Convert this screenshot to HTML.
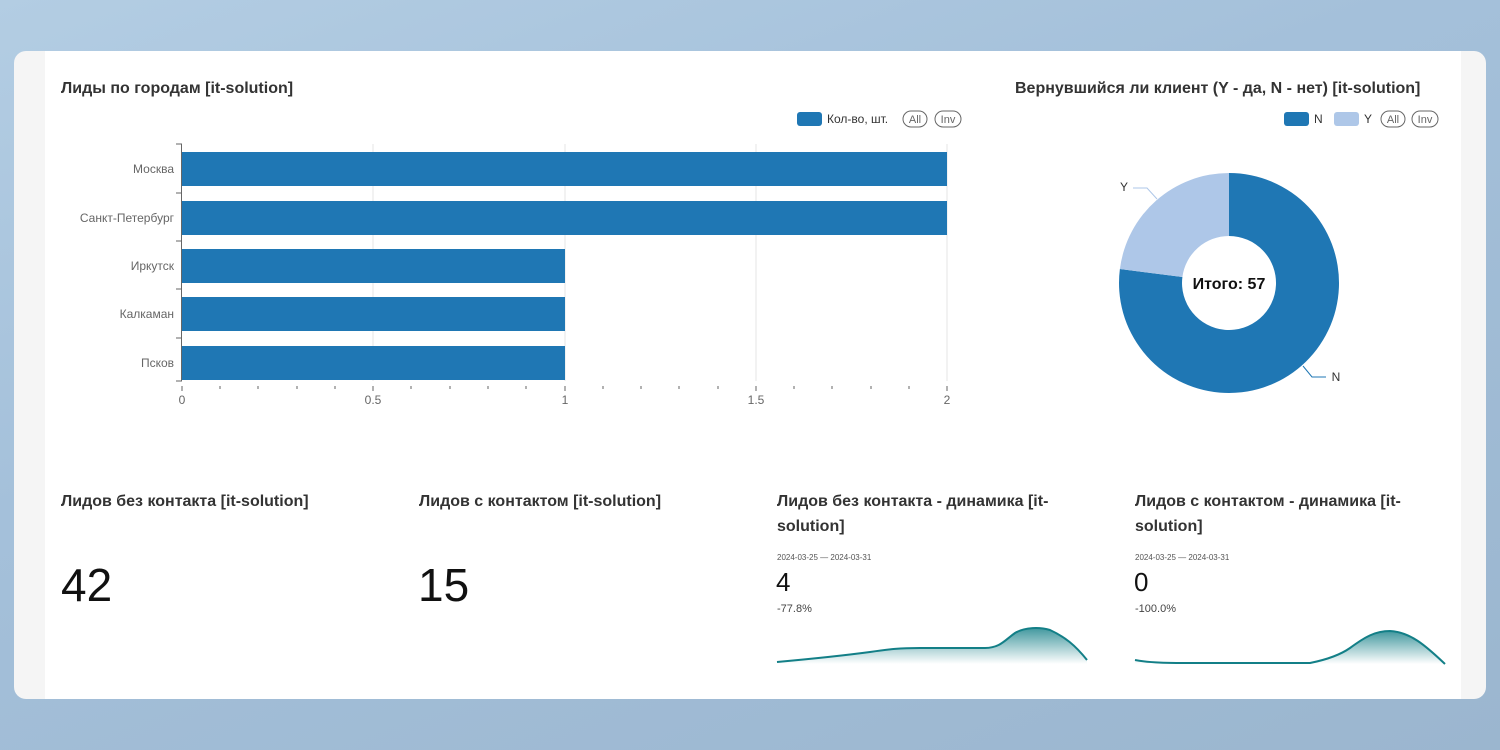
<!DOCTYPE html>
<html><head><meta charset="utf-8"><style>
body{margin:0;width:1500px;height:750px;overflow:hidden;font-family:"Liberation Sans",sans-serif;background:linear-gradient(160deg,#b3cde3 0%,#a4c0da 40%,#9bb6cf 100%);position:relative}
.card{position:absolute;left:14px;top:51px;width:1472px;height:648px;background:#f5f5f5;border-radius:12px;overflow:hidden}
.inner{position:absolute;left:31px;top:0;width:1416px;height:648px;background:#fff}
.t{position:absolute;font-size:16px;font-weight:bold;color:#333;line-height:25px}
.big{position:absolute;font-size:46px;color:#111}
</style></head><body>
<div class="card"><div class="inner"></div></div>
<svg width="1500" height="750" style="position:absolute;left:0;top:0" font-family="Liberation Sans, sans-serif">
<g stroke="#e6e6e6"><line x1="373" y1="144" x2="373" y2="381"/><line x1="565" y1="144" x2="565" y2="381"/><line x1="756" y1="144" x2="756" y2="381"/><line x1="947" y1="144" x2="947" y2="381"/></g>
<g fill="#1f77b4"><rect x="182" y="152" width="765" height="34"/><rect x="182" y="201" width="765" height="34"/><rect x="182" y="249" width="383" height="34"/><rect x="182" y="297" width="383" height="34"/><rect x="182" y="346" width="383" height="34"/></g>
<g stroke="#666"><line x1="181.5" y1="144" x2="181.5" y2="381"/><line x1="176" y1="144" x2="182" y2="144"/><line x1="176" y1="193" x2="182" y2="193"/><line x1="176" y1="241" x2="182" y2="241"/><line x1="176" y1="289" x2="182" y2="289"/><line x1="176" y1="338" x2="182" y2="338"/><line x1="176" y1="381" x2="182" y2="381"/></g>
<g stroke="#666">
<line x1="182" y1="386" x2="182" y2="391"/><line x1="220" y1="386" x2="220" y2="389"/><line x1="258" y1="386" x2="258" y2="389"/><line x1="297" y1="386" x2="297" y2="389"/><line x1="335" y1="386" x2="335" y2="389"/><line x1="373" y1="386" x2="373" y2="391"/><line x1="411" y1="386" x2="411" y2="389"/><line x1="450" y1="386" x2="450" y2="389"/><line x1="488" y1="386" x2="488" y2="389"/><line x1="526" y1="386" x2="526" y2="389"/><line x1="565" y1="386" x2="565" y2="391"/><line x1="603" y1="386" x2="603" y2="389"/><line x1="641" y1="386" x2="641" y2="389"/><line x1="679" y1="386" x2="679" y2="389"/><line x1="718" y1="386" x2="718" y2="389"/><line x1="756" y1="386" x2="756" y2="391"/><line x1="794" y1="386" x2="794" y2="389"/><line x1="832" y1="386" x2="832" y2="389"/><line x1="871" y1="386" x2="871" y2="389"/><line x1="909" y1="386" x2="909" y2="389"/><line x1="947" y1="386" x2="947" y2="391"/></g>
<g font-size="12" fill="#666" text-anchor="middle"><text x="182" y="404">0</text><text x="373" y="404">0.5</text><text x="565" y="404">1</text><text x="756" y="404">1.5</text><text x="947" y="404">2</text></g>
<g font-size="12" fill="#666" text-anchor="end"><text x="174" y="173">Москва</text><text x="174" y="222">Санкт-Петербург</text><text x="174" y="270">Иркутск</text><text x="174" y="318">Калкаман</text><text x="174" y="367">Псков</text></g>
<rect x="797" y="112" width="25" height="14" rx="3" fill="#1f77b4"/><text x="827" y="123" font-size="12" fill="#333">Кол-во, шт.</text>
<rect x="903" y="111" width="24" height="16" rx="8" fill="none" stroke="#666"/><text x="915" y="123" font-size="11" fill="#666" text-anchor="middle">All</text>
<rect x="935" y="111" width="26" height="16" rx="8" fill="none" stroke="#666"/><text x="948" y="123" font-size="11" fill="#666" text-anchor="middle">Inv</text>
<rect x="1284" y="112" width="25" height="14" rx="3" fill="#1f77b4"/><text x="1314" y="123" font-size="12" fill="#333">N</text>
<rect x="1334" y="112" width="25" height="14" rx="3" fill="#aec7e8"/><text x="1364" y="123" font-size="12" fill="#333">Y</text>
<rect x="1381" y="111" width="24" height="16" rx="8" fill="none" stroke="#666"/><text x="1393" y="123" font-size="11" fill="#666" text-anchor="middle">All</text>
<rect x="1412" y="111" width="26" height="16" rx="8" fill="none" stroke="#666"/><text x="1425" y="123" font-size="11" fill="#666" text-anchor="middle">Inv</text>
<path d="M1229 173 A110 110 0 1 1 1119.9 269 L1182.4 277 A47 47 0 1 0 1229 236 Z" fill="#1f77b4"/>
<path d="M1229 173 L1229 236 A47 47 0 0 0 1182.4 277 L1119.9 269 A110 110 0 0 1 1229 173 Z" fill="#aec7e8"/>
<polyline points="1157,199 1147,188 1133,188" fill="none" stroke="#aec7e8"/>
<polyline points="1303,366 1312,377 1326,377" fill="none" stroke="#1f77b4"/>
<text x="1124" y="191" font-size="12" fill="#333" text-anchor="middle">Y</text>
<text x="1336" y="381" font-size="12" fill="#333" text-anchor="middle">N</text>
<text x="1229" y="289" font-size="16" font-weight="bold" fill="#111" text-anchor="middle">Итого: 57</text>
<defs><linearGradient id="g" x1="0" y1="0" x2="0" y2="1"><stop offset="0" stop-color="#137f87" stop-opacity="0.8"/><stop offset="1" stop-color="#137f87" stop-opacity="0"/></linearGradient></defs>
<path d="M777 662 C810 659 840 656 870 652 C890 649 900 648 920 648 L985 648 C1000 648 1005 640 1015 633 C1025 627 1040 627 1050 630 C1065 637 1075 645 1087 660 L1087 664 L777 664Z" fill="url(#g)"/>
<path d="M777 662 C810 659 840 656 870 652 C890 649 900 648 920 648 L985 648 C1000 648 1005 640 1015 633 C1025 627 1040 627 1050 630 C1065 637 1075 645 1087 660" fill="none" stroke="#137f87" stroke-width="2"/>
<path d="M1135 660 C1150 663 1170 663 1190 663 L1310 663 C1325 660 1340 655 1350 648 C1365 637 1375 631 1390 631 C1410 632 1425 645 1445 664 L1135 664Z" fill="url(#g)"/>
<path d="M1135 660 C1150 663 1170 663 1190 663 L1310 663 C1325 660 1340 655 1350 648 C1365 637 1375 631 1390 631 C1410 632 1425 645 1445 664" fill="none" stroke="#137f87" stroke-width="2"/>
</svg>
<div class="t" style="left:61px;top:76px">Лиды по городам [it-solution]</div>
<div class="t" style="left:1015px;top:76px">Вернувшийся ли клиент (Y - да, N - нет) [it-solution]</div>
<div class="t" style="left:61px;top:489px">Лидов без контакта [it-solution]</div>
<div class="t" style="left:419px;top:489px">Лидов с контактом [it-solution]</div>
<div class="t" style="left:777px;top:489px;width:300px">Лидов без контакта - динамика [it-solution]</div>
<div class="t" style="left:1135px;top:489px;width:300px">Лидов с контактом - динамика [it-solution]</div>
<div class="big" style="left:61px;top:558px">42</div>
<div class="big" style="left:418px;top:558px">15</div>
<div style="position:absolute;left:777px;top:553px;font-size:8px;color:#555">2024-03-25 — 2024-03-31</div>
<div style="position:absolute;left:1135px;top:553px;font-size:8px;color:#555">2024-03-25 — 2024-03-31</div>
<div style="position:absolute;left:776px;top:567px;font-size:26px;color:#111">4</div>
<div style="position:absolute;left:1134px;top:567px;font-size:26px;color:#111">0</div>
<div style="position:absolute;left:777px;top:603px;font-size:11px;color:#444">-77.8%</div>
<div style="position:absolute;left:1135px;top:603px;font-size:11px;color:#444">-100.0%</div>
</body></html>
